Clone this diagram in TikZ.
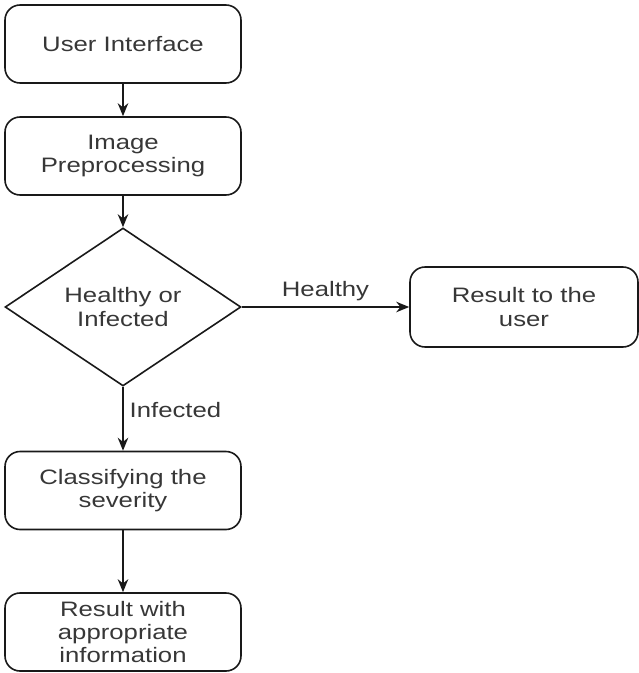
\documentclass[tikz,border=0pt]{standalone}
\usepackage{fontspec}
\setmainfont{Liberation Sans}[FakeStretch=1.23]
\usetikzlibrary{shapes.geometric,arrows.meta}
\definecolor{linegray}{RGB}{25,25,25}
\definecolor{textgray}{RGB}{55,55,55}

\tikzset{
  stepbox/.style={draw=linegray, line width=0.032cm, rounded corners=0.3cm,
    minimum width=4.72cm, minimum height=1.56cm, inner sep=0pt,
    align=center, text=textgray, font=\fontsize{11.9}{13.3}\selectfont},
  decision/.style={diamond, draw=linegray, line width=0.032cm,
    minimum width=4.72cm, minimum height=3.16cm, inner sep=0pt,
    align=center, text=textgray, font=\fontsize{11.9}{13.3}\selectfont},
  flow/.style={draw=linegray, line width=0.032cm,
    -{Stealth[length=0.26cm,width=0.21cm]}},
  flowlabel/.style={text=textgray, font=\fontsize{11.9}{13.3}\selectfont}
}

\begin{document}
\begin{tikzpicture}[x=0.02cm,y=-0.02cm]
            \useasboundingbox (0,0) rectangle (639,673);

            % Main column
            \node[stepbox] (ui) at (123,44) {User Interface};
            \node[stepbox] (prep) at (123,156) {Image\\Preprocessing};
            \node[decision] (check) at (123,307) {Healthy or\\Infected};
            \node[stepbox] (severity) at (123,490.5) {Classifying the\\severity};
            \node[stepbox] (final) at (123,632) {Result with\\appropriate\\information};

            % Healthy branch
            \node[stepbox, minimum width=4.56cm, minimum height=1.6cm] (result) at (524,307) {Result to the\\user};

            % Arrows
            \draw[flow] (ui) -- (prep);
            \draw[flow] (prep) -- (check);
            \draw[flow] (check) -- node[flowlabel, above] {Healthy} (result);
            \draw[flow] (check) -- node[flowlabel, right, pos=0.36] {Infected} (severity);
            \draw[flow] (severity) -- (final);
        \end{tikzpicture}
\end{document}
